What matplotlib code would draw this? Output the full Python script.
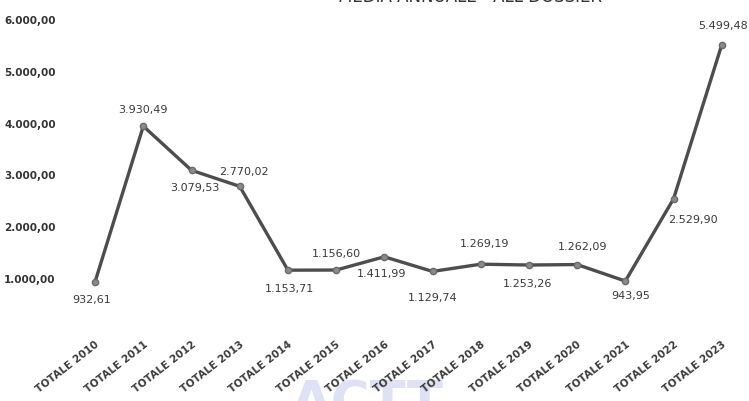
import matplotlib
matplotlib.use("Agg")
import matplotlib.pyplot as plt
from matplotlib.ticker import FuncFormatter

# ---------------- Data ---------------- #
years = ["TOTALE 2010", "TOTALE 2011", "TOTALE 2012", "TOTALE 2013", "TOTALE 2014",
         "TOTALE 2015", "TOTALE 2016", "TOTALE 2017", "TOTALE 2018", "TOTALE 2019",
         "TOTALE 2020", "TOTALE 2021", "TOTALE 2022", "TOTALE 2023"]
values = [932.61, 3930.49, 3079.53, 2770.02, 1153.71, 1156.60, 1411.99, 1129.74,
          1269.19, 1253.26, 1262.09, 943.95, 2529.90, 5499.48]
# label placement: offset in pixels (dx, dy) from each point
label_offsets = [(-3, -17), (0, 17), (3, -17), (4, 15), (2, -18), (0, 17),
                 (-3, -16), (0, -26), (4, 21), (-1, -18), (5, 19), (5, -14),
                 (19, -20), (1, 20)]

TITLE = "MEDIA ANNUALE - ALL DOSSIER"


def it_fmt(v, decimals=2):
    s = f"{v:,.{decimals}f}"
    return s.replace(",", "X").replace(".", ",").replace("X", ".")


plt.rcParams['font.family'] = ['Liberation Sans Narrow', 'DejaVu Sans']

fig = plt.figure(figsize=(7.49, 4.02), dpi=100)
ax = fig.add_axes([0.0948, 0.1766, 0.901, 0.774])

x = list(range(len(years)))
ax.plot(x, values, color='#4d4d4d', lw=2.4, marker='o', ms=4.5,
        mfc='#8a8a8a', mec='#6a6a6a', zorder=3)

for xi, v, (dx, dy) in zip(x, values, label_offsets):
    ax.annotate(it_fmt(v), (xi, v), xytext=(dx, dy), textcoords='offset pixels',
                ha='center', va='center', fontsize=8, color='#3a3a3a')

ax.set_xlim(-0.5, len(years) - 0.5)
ax.set_ylim(0, 6000)
ax.set_yticks([1000, 2000, 3000, 4000, 5000, 6000])
ax.yaxis.set_major_formatter(FuncFormatter(lambda v, p: it_fmt(v)))
ax.set_xticks(x)
ax.set_xticklabels(years, rotation=38, ha='right', rotation_mode='anchor',
                   fontsize=7.5, fontweight='bold', color='#3a3a3a')
for lbl in ax.get_yticklabels():
    lbl.set_fontsize(7.5)
    lbl.set_fontweight('bold')
    lbl.set_color('#333333')
ax.tick_params(axis='both', length=0)
ax.tick_params(axis='y', pad=11)
ax.tick_params(axis='x', pad=6)
for s in ax.spines.values():
    s.set_visible(False)

# title cut at the top of the scan
fig.text(0.627, 0.994, TITLE, ha='center', va='baseline', fontsize=12,
         color='#333333')
# faint watermark at the bottom
fig.text(0.49, -0.07, "ACTT", ha='center', va='bottom', fontsize=38,
         fontweight='bold', color='#dfe2f4', zorder=-1)

fig.savefig("out.png", dpi=100)
